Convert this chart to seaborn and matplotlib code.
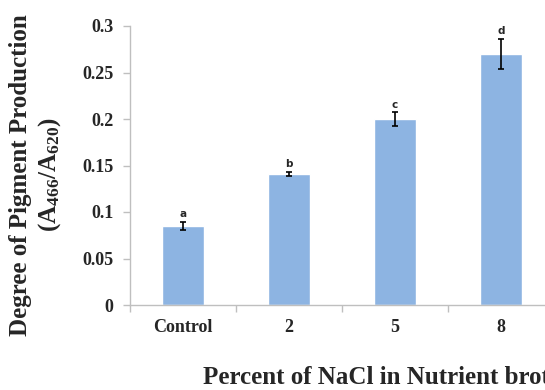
import matplotlib
matplotlib.use("Agg")
import matplotlib.pyplot as plt
import seaborn as sns
import pandas as pd
from matplotlib.ticker import FixedLocator

# NaCl concentration groups and pigment production (A466/A620)
categories = ["Control", "2", "5", "8"]
values = [0.085, 0.141, 0.200, 0.270]
errors = [0.004, 0.002, 0.007, 0.016]
letters = ["a", "b", "c", "d"]
ytick_values = [0, 0.05, 0.1, 0.15, 0.2, 0.25, 0.3]
ytick_labels = ["0", "0.05", "0.1", "0.15", "0.2", "0.25", "0.3"]

sns.set_theme(style="white")
plt.rcParams["font.family"] = ["Liberation Serif", "DejaVu Serif"]
plt.rcParams["mathtext.fontset"] = "custom"
plt.rcParams["mathtext.rm"] = "Liberation Serif:bold"
plt.rcParams["mathtext.bf"] = "Liberation Serif:bold"
plt.rcParams["mathtext.it"] = "Liberation Serif:bold"

df = pd.DataFrame({"group": categories, "value": values})

fig = plt.figure(figsize=(5.45, 3.9), dpi=100)
ax = fig.add_axes([130 / 545, 1 - 305 / 390, 424 / 545, 279 / 390])

sns.barplot(data=df, x="group", y="value", order=categories, color="#8DB4E2",
            saturation=1, width=0.4, errorbar=None, ax=ax)
ax.errorbar(range(len(categories)), values, yerr=errors, fmt="none",
            ecolor="black", elinewidth=1.2, capsize=2.5, capthick=1.2)

for i, (v, e, t) in enumerate(zip(values, errors, letters)):
    ax.text(i, v + e + 0.003, t, ha="center", va="bottom", fontsize=7.5,
            fontweight="bold", family="DejaVu Sans")

ax.set_xlim(-0.5, 3.5)
ax.set_ylim(0, 0.3)
ax.set_yticks(ytick_values)
ax.set_yticklabels(ytick_labels)

for s in ["top", "right"]:
    ax.spines[s].set_visible(False)
for s in ["left", "bottom"]:
    ax.spines[s].set_color("#BFBFBF")
    ax.spines[s].set_linewidth(1.0)

ax.tick_params(axis="y", which="major", direction="out", length=5, width=1,
               color="#BFBFBF", left=True, labelsize=13, pad=7)
ax.tick_params(axis="x", which="major", length=0, labelsize=13, pad=10)
ax.xaxis.set_minor_locator(FixedLocator([-0.5, 0.5, 1.5, 2.5, 3.5]))
ax.tick_params(axis="x", which="minor", direction="out", length=5, width=1,
               color="#BFBFBF", bottom=True)
for lab in ax.get_xticklabels() + ax.get_yticklabels():
    lab.set_fontweight("bold")

ax.set_xlabel("")
ax.set_ylabel("")

fig.text(21 / 545, 1 - 175 / 390, "Degree of Pigment Production",
         rotation=90, ha="center", va="center", fontsize=18, fontweight="bold")
fig.text(50 / 545, 1 - 175 / 390, r"(A$_{466}$/A$_{620}$)",
         rotation=90, ha="center", va="center", fontsize=18, fontweight="bold")
fig.text(203 / 545, 1 - 377 / 390, "Percent of NaCl in Nutrient broth",
         ha="left", va="center", fontsize=18, fontweight="bold")

fig.savefig("out.png", dpi=100)
